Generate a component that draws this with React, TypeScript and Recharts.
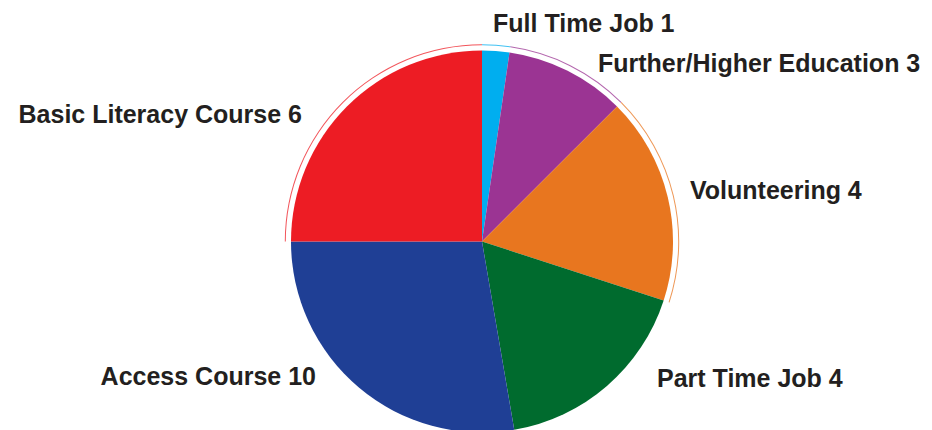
import { Cell, Pie, PieChart } from "recharts";

// slices clockwise from 12 o'clock
const categories = [
  "Full Time Job",
  "Further/Higher Education",
  "Volunteering",
  "Part Time Job",
  "Access Course",
  "Basic Literacy Course",
];
// numbers printed in the labels
const counts = [1, 3, 4, 4, 10, 6];
// slice sizes as drawn in the picture (% of the circle)
const shares = [2.3, 10.2, 17.5, 17.3, 27.7, 25.0];

const colors = ["#00aeef", "#9b3493", "#e8761f", "#006b2e", "#1f3f95", "#ed1c24"];
// which slices get the thin outer rim line
const hasRim = [true, true, true, false, false, true];

// label placement (baseline point + anchor), kept apart from data
const labelPos = [
  { x: 493, y: 32, anchor: "start" },
  { x: 598, y: 72, anchor: "start" },
  { x: 690, y: 199, anchor: "start" },
  { x: 657, y: 387, anchor: "start" },
  { x: 316, y: 385, anchor: "end" },
  { x: 302, y: 123, anchor: "end" },
];

const data = categories.map((name, i) => ({
  name,
  value: shares[i],
  count: counts[i],
}));

function renderLabel(props: any) {
  const i =
    typeof props.index === "number"
      ? props.index
      : categories.indexOf(props.name ?? props.payload?.name);
  const pos = labelPos[i];
  if (!pos) return null;
  return (
    <text
      x={pos.x}
      y={pos.y}
      textAnchor={pos.anchor}
      fill="#231f20"
      fontSize={25}
      fontWeight={700}
      fontFamily="'Liberation Sans', Arial, Helvetica, sans-serif"
    >
      {`${categories[i]} ${counts[i]}`}
    </text>
  );
}

export default function App() {
  return (
    <div style={{ position: "absolute", left: 0, top: 0, background: "#fff" }}>
      <style>{`body{margin:0;background:#fff}`}</style>
      <PieChart width={932} height={430} margin={{ top: 0, right: 0, bottom: 0, left: 0 }}>
        {/* thin outer rim */}
        <Pie
          data={data}
          dataKey="value"
          cx={482}
          cy={241.5}
          innerRadius={196.2}
          outerRadius={197.2}
          startAngle={90}
          endAngle={-270}
          stroke="none"
          isAnimationActive={false}
        >
          {data.map((d, i) => (
            <Cell
              key={d.name}
              fill={hasRim[i] ? colors[i] : "transparent"}
              fillOpacity={0.75}
            />
          ))}
        </Pie>
        <Pie
          data={data}
          dataKey="value"
          cx={482}
          cy={241.5}
          outerRadius={191}
          startAngle={90}
          endAngle={-270}
          stroke="none"
          label={renderLabel}
          labelLine={false}
          isAnimationActive={false}
        >
          {data.map((d, i) => (
            <Cell key={d.name} fill={colors[i]} />
          ))}
        </Pie>
      </PieChart>
    </div>
  );
}
